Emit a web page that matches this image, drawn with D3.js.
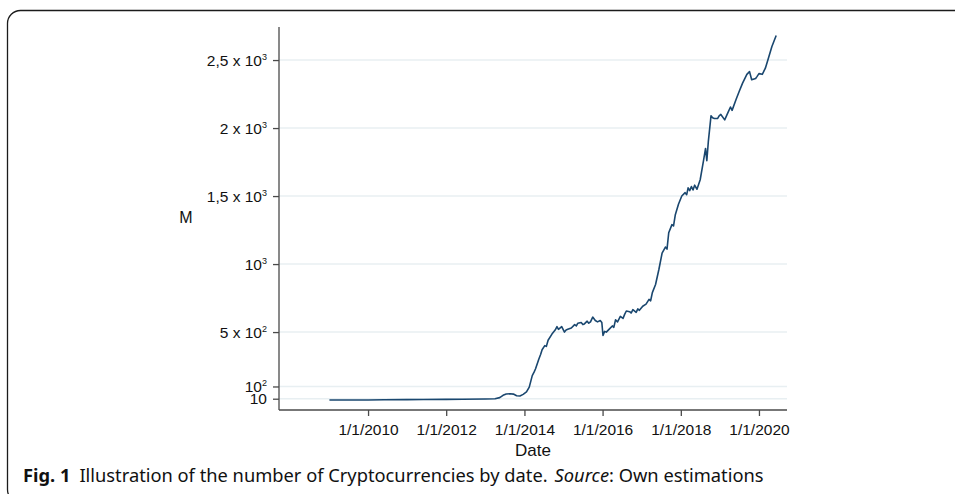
<!DOCTYPE html>
<html lang="en">
<head>
  <meta charset="UTF-8">
  <title>Number of Cryptocurrencies by date</title>
  <script src="https://d3js.org/d3.v7.min.js"></script>
  <style>
    body {
      margin: 0;
      padding: 0;
      background: #fff;
    }
    svg {
      display: block;
    }
    .tick-label {
      font-family: "Liberation Sans", Arial, sans-serif;
      font-size: 15.5px;
      fill: #111;
    }
    .caption {
      font-family: "Noto Sans", "Open Sans", sans-serif;
      font-size: 18.3px;
      fill: #111;
    }
  </style>
</head>
<body>
  <svg width="955" height="494"></svg>

  <script>
    // number of cryptocurrencies (M)
    const dates = [
      "2009-01-05", "2009-06-01", "2010-01-01", "2010-06-01", "2011-01-01", "2011-06-01",
      "2012-01-01", "2012-06-01", "2013-01-01", "2013-04-01", "2013-05-15", "2013-06-15",
      "2013-07-15", "2013-08-20", "2013-09-20", "2013-10-20", "2013-11-20", "2013-12-20",
      "2014-01-20", "2014-02-15", "2014-03-15", "2014-04-01", "2014-04-15", "2014-05-15",
      "2014-06-01", "2014-06-15", "2014-07-10", "2014-07-25", "2014-08-10", "2014-09-15",
      "2014-10-15", "2014-11-01", "2014-11-15", "2014-12-15", "2015-01-10", "2015-01-25",
      "2015-02-10", "2015-03-15", "2015-04-15", "2015-05-01", "2015-05-15", "2015-06-15",
      "2015-07-01", "2015-07-15", "2015-08-10", "2015-08-25", "2015-09-10", "2015-10-01",
      "2015-10-25", "2015-11-15", "2015-12-10", "2015-12-25", "2016-01-05", "2016-01-20",
      "2016-02-05", "2016-03-01", "2016-04-01", "2016-04-15", "2016-05-01", "2016-05-20",
      "2016-06-15", "2016-07-10", "2016-07-25", "2016-08-10", "2016-09-10", "2016-09-25",
      "2016-10-10", "2016-11-10", "2016-11-25", "2016-12-10", "2017-01-10", "2017-02-10",
      "2017-03-10", "2017-03-25", "2017-04-10", "2017-05-10", "2017-06-10", "2017-07-10",
      "2017-08-10", "2017-08-25", "2017-09-10", "2017-10-10", "2017-10-25", "2017-11-10",
      "2017-12-10", "2018-01-10", "2018-02-10", "2018-02-25", "2018-03-10", "2018-03-25",
      "2018-04-10", "2018-04-25", "2018-05-10", "2018-06-01", "2018-07-01", "2018-08-01",
      "2018-08-20", "2018-09-01", "2018-09-15", "2018-10-10", "2018-10-25", "2018-11-10",
      "2018-12-10", "2018-12-25", "2019-01-10", "2019-02-15", "2019-03-15", "2019-04-10",
      "2019-04-25", "2019-06-01", "2019-07-01", "2019-08-01", "2019-09-10", "2019-10-05",
      "2019-10-25", "2019-12-01", "2019-12-15", "2020-01-01", "2020-02-01", "2020-03-01",
      "2020-04-01", "2020-05-01", "2020-06-10"
    ];
    const counts = [
      1, 1, 1, 2, 3, 4,
      5, 6, 8, 10, 18, 35,
      45, 46, 44, 32, 30, 42,
      60, 95, 180, 205, 230, 300,
      335, 370, 400, 395, 440, 485,
      515, 540, 520, 540, 500, 515,
      520, 530, 555, 545, 565, 570,
      555, 560, 580, 565, 575, 610,
      585, 575, 585, 570, 475, 505,
      500, 520, 545, 535, 590, 575,
      615, 600, 630, 655, 650, 640,
      665, 645, 670, 660, 690, 705,
      740, 730, 790, 850, 960, 1080,
      1125, 1110, 1230, 1290, 1280, 1360,
      1440, 1500, 1525, 1510, 1560, 1540,
      1570, 1545, 1580, 1550, 1620, 1760,
      1850, 1760, 1900, 2090, 2075, 2070,
      2070, 2090, 2100, 2060, 2110, 2155,
      2130, 2210, 2270, 2330, 2395, 2415,
      2355, 2365, 2380, 2400, 2395, 2440,
      2520, 2600, 2680
    ];

    // y ticks: value, mantissa text, exponent
    const yTickValues = [10, 100, 500, 1000, 1500, 2000, 2500];
    const yTickBase = ["10", "10", "5 x 10", "10", "1,5 x 10", "2 x 10", "2,5 x 10"];
    const yTickExp = ["", "2", "2", "3", "3", "3", "3"];

    const xTickYears = [2010, 2012, 2014, 2016, 2018, 2020];

    const parse = d3.timeParse("%Y-%m-%d");
    const data = dates.map((d, i) => ({ date: parse(d), value: counts[i] }));

    const svg = d3.select("svg");

    // outer rounded frame (runs off the right and bottom edges)
    svg.append("rect")
      .attr("x", 7.5).attr("y", 10.5)
      .attr("width", 980).attr("height", 492)
      .attr("rx", 13).attr("ry", 13)
      .attr("fill", "none")
      .attr("stroke", "#1b1b1b")
      .attr("stroke-width", 1.3);

    const plot = { left: 279, right: 787, top: 27, bottom: 410 };

    const x = d3.scaleTime()
      .domain([new Date(2007, 8, 22), new Date(2020, 8, 19)])
      .range([plot.left, plot.right]);

    const y = d3.scaleLinear()
      .domain([-73, 2743])
      .range([plot.bottom, plot.top]);

    // gridlines
    svg.append("g")
      .selectAll("line")
      .data(yTickValues)
      .enter().append("line")
      .attr("x1", plot.left).attr("x2", plot.right)
      .attr("y1", d => y(d)).attr("y2", d => y(d))
      .attr("stroke", "#e8eff2")
      .attr("stroke-width", 1.4);

    // series
    const line = d3.line()
      .x(d => x(d.date))
      .y(d => y(d.value));

    svg.append("path")
      .datum(data)
      .attr("d", line)
      .attr("fill", "none")
      .attr("stroke", "#1a476f")
      .attr("stroke-width", 1.6)
      .attr("stroke-linejoin", "round");

    // y axis
    const yAxis = svg.append("g")
      .attr("transform", `translate(${plot.left},0)`)
      .call(d3.axisLeft(y).tickValues(yTickValues).tickSize(6).tickFormat(""));
    yAxis.select(".domain")
      .attr("d", `M0,${plot.top}V${plot.bottom}`);

    // x axis
    const xAxis = svg.append("g")
      .attr("transform", `translate(0,${plot.bottom})`)
      .call(d3.axisBottom(x)
        .tickValues(xTickYears.map(yr => new Date(yr, 0, 1)))
        .tickSize(6)
        .tickFormat(d => `1/1/${d.getFullYear()}`));
    xAxis.select(".domain")
      .attr("d", `M${plot.left},0H${plot.right}`);

    [yAxis, xAxis].forEach(ax => {
      ax.attr("font-size", null).attr("font-family", null);
      ax.select(".domain").attr("stroke", "#4a4a4a").attr("stroke-width", 1.3);
      ax.selectAll(".tick line").attr("stroke", "#4a4a4a").attr("stroke-width", 1.3);
    });

    xAxis.selectAll(".tick text")
      .attr("class", "tick-label")
      .attr("y", 14)
      .attr("dy", "0.71em");

    // y tick labels with superscript exponents
    const yLabels = svg.append("g");
    yTickValues.forEach((v, i) => {
      const t = yLabels.append("text")
        .attr("class", "tick-label")
        .attr("x", plot.left - 12)
        .attr("y", y(v) + 5.5)
        .attr("text-anchor", "end");
      t.append("tspan").text(yTickBase[i]);
      if (yTickExp[i]) {
        t.append("tspan")
          .attr("dy", -6)
          .attr("font-size", 9)
          .text(yTickExp[i]);
      }
    });

    // axis titles
    svg.append("text")
      .attr("class", "tick-label")
      .attr("x", 186).attr("y", 223)
      .attr("text-anchor", "middle")
      .style("font-size", "16px")
      .text("M");

    svg.append("text")
      .attr("class", "tick-label")
      .attr("x", (plot.left + plot.right) / 2).attr("y", 456)
      .attr("text-anchor", "middle")
      .style("font-size", "17px")
      .text("Date");

    // caption
    const cap = svg.append("text")
      .attr("class", "caption")
      .attr("x", 23).attr("y", 482);
    cap.append("tspan").attr("font-weight", "bold").text("Fig. 1");
    cap.append("tspan").attr("dx", 9).text("Illustration of the number of Cryptocurrencies by date.");
    cap.append("tspan").attr("dx", 7).attr("font-style", "italic").text("Source");
    cap.append("tspan").text(": Own estimations");
  </script>
</body>
</html>
